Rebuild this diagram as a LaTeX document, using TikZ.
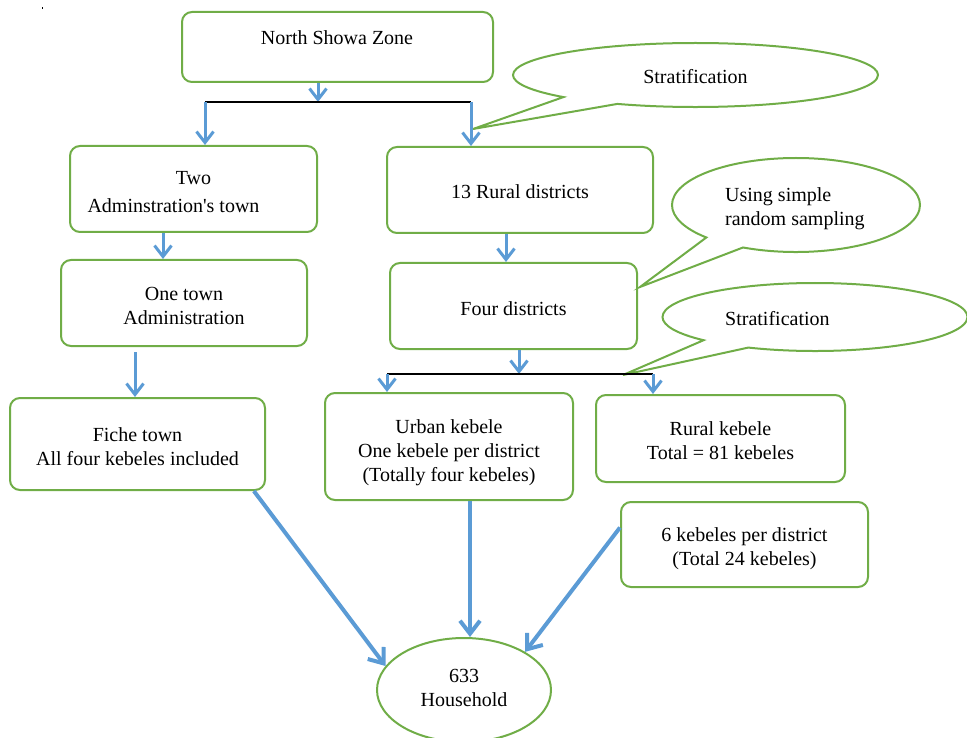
\documentclass[tikz,border=0pt]{standalone}
\usepackage{fontspec}
\setmainfont{Liberation Serif}
\usetikzlibrary{arrows.meta,shapes.geometric,shapes.callouts,calc}
\definecolor{gr}{RGB}{112,173,71}
\definecolor{bl}{RGB}{91,155,213}
\newcommand{\dn}[1]{\rule{0pt}{#1}}
\begin{document}
\begin{tikzpicture}[x=1pt,y=-1pt,
  font=\fontsize{20}{24}\selectfont,
  box/.style={draw=gr, line width=2pt, rounded corners=10pt, fill=white, inner sep=0pt, align=center},
  callbox/.style={ellipse callout, draw=gr, line width=2pt, fill=white, inner sep=0pt, callout pointer arc=21},
  arr/.style={draw=bl, line width=3pt, -{Straight Barb[length=11pt,width=17pt]}},
  bigarr/.style={draw=bl, line width=4pt, -{Straight Barb[length=13pt,width=20pt]}},
  joinline/.style={draw=black, line width=1.2pt},
  txt/.style={inner sep=0pt, align=center},
]
\useasboundingbox (0,0) rectangle (967,738);
\fill[black] (41.5,7) rectangle (42.5,9);

% boxes
\node[box, minimum width=311pt, minimum height=70pt] (nsz) at (337.5,47) {};
\node[txt] (nsztext) at (337,38) {North Showa Zone};
\node[box, minimum width=247pt, minimum height=86pt] (two) at (193.5,189) {\dn{19.7pt}Two\\[4pt]Adminstration\textquotesingle s town\hspace*{40pt}};
\node[box, minimum width=246pt, minimum height=86pt] (one) at (184,303) {\dn{19.7pt}One town\\Administration};
\node[box, minimum width=266pt, minimum height=86pt] (rur13) at (520,190) {\dn{17.7pt}13 Rural districts};
\node[box, minimum width=247pt, minimum height=86pt] (four) at (513.5,306) {\dn{18.7pt}Four districts};
\node[box, minimum width=255pt, minimum height=92pt] (fiche) at (137.5,444) {\dn{18.7pt}Fiche town\\All four kebeles included};
\node[box, minimum width=248pt, minimum height=107pt] (urban) at (449,446.5) {\dn{25.7pt}Urban kebele\\One kebele per district\\(Totally four kebeles)};
\node[box, minimum width=249pt, minimum height=87pt] (rkeb) at (720.5,438.5) {\dn{17.7pt}Rural kebele\\Total = 81 kebeles};
\node[box, minimum width=247pt, minimum height=85pt] (six) at (744.5,544.5) {\dn{21.7pt}6 kebeles per district\\(Total 24 kebeles)};
\node[ellipse, draw=gr, line width=2pt, fill=white, inner sep=0pt, align=center, minimum width=174pt, minimum height=104pt] (hh) at (464,690) {633\\Household\rule[-5pt]{0pt}{5pt}};

% callouts
\coordinate (tip1) at (473,129);
\coordinate (tip2) at (623,375);
\coordinate (tip3) at (640,287);
\node[callbox, minimum width=365pt, minimum height=64pt, callout absolute pointer={(tip1)}] (c1) at (695.5,75) {\dn{17.7pt}Stratification};
\node[callbox, minimum width=248pt, minimum height=94pt, callout absolute pointer={(tip3)}] (c3) at (796,205) {};
\node[txt, anchor=west, align=left] (c3text) at (725,209) {Using simple\\random sampling};
\node[callbox, minimum width=305pt, minimum height=68pt, callout absolute pointer={(tip2)}] (c2) at (815,317) {};
\node[txt, anchor=west] (c2text) at (725,319) {Stratification};

% junctions and arrows
\coordinate (j1) at (318,102);
\coordinate (jl) at (205,102);
\coordinate (jr) at (471,102);
\draw[arr] (nsz.south -| j1) -- (j1);
\draw[joinline] (jl) -- (jr);
\draw[arr] (jl) -- (jl |- two.north);
\draw[arr] (jr) -- (jr |- rur13.north);

\coordinate (x163) at (163,0);
\draw[arr] (two.south -| x163) -- (one.north -| x163);
\coordinate (x506) at (506,0);
\draw[arr] (rur13.south -| x506) -- (four.north -| x506);
\coordinate (s135) at (135,352);
\draw[arr] (s135) -- (fiche.north -| s135);

\coordinate (j2) at (519,374);
\coordinate (j2l) at (387,374);
\coordinate (j2r) at (653,374);
\draw[arr] (four.south -| j2) -- (j2);
\draw[joinline] (j2l) -- (j2r);
\draw[arr] (j2l) -- (j2l |- urban.north);
\draw[arr] (j2r) -- (j2r |- rkeb.north);

\coordinate (x470) at (470,0);
\draw[bigarr] (fiche.-22.6) -- (hh.163.8);
\draw[bigarr] (urban.south -| x470) -- (hh.north -| x470);
\draw[bigarr] ($(six.west)+(0,-17)$) -- (hh.32.8);
\end{tikzpicture}
\end{document}
